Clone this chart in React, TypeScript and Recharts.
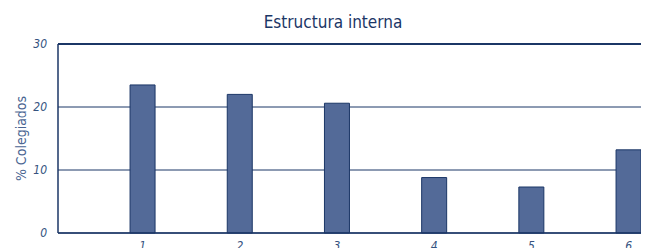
import { Bar, BarChart, CartesianGrid, ReferenceLine, XAxis, YAxis } from 'recharts';

const categories = [1, 2, 3, 4, 5, 6];
const colegiados = [23.5, 22.0, 20.6, 8.8, 7.3, 13.2];
const yTicks = [0, 10, 20, 30];

const data = categories.map((c, i) => ({ cat: c, value: colegiados[i] }));

const navy = '#1b3666';
const condensed = '"DejaVu Sans Condensed", "Liberation Sans", sans-serif';
const tickStyle = {
  fill: '#35537f',
  fontSize: 12,
  fontStyle: 'italic',
  fontFamily: condensed,
};

export default function App() {
  return (
    <div style={{ position: 'absolute', left: 0, top: 0, width: 650, height: 248, background: '#fff' }}>
      <BarChart
        width={650}
        height={248}
        data={data}
        margin={{ top: 44, right: 9, bottom: 0, left: 0 }}
      >
        <text
          x={333}
          y={28}
          textAnchor="middle"
          fill={navy}
          fontSize={17}
          fontFamily={condensed}
          style={{ fontStretch: 'condensed' }}
        >
          Estructura interna
        </text>
        <CartesianGrid vertical={false} stroke={navy} strokeWidth={1} />
        <XAxis
          dataKey="cat"
          type="number"
          domain={[0.129, 6.127]}
          ticks={categories}
          allowDataOverflow
          height={15}
          tickLine={false}
          axisLine={{ stroke: navy, strokeWidth: 1.5 }}
          tick={tickStyle}
          tickMargin={2}
        />
        <YAxis
          domain={[0, 30]}
          ticks={yTicks}
          width={58}
          tickLine={false}
          axisLine={{ stroke: navy, strokeWidth: 1.5 }}
          tick={tickStyle}
          tickMargin={5}
          label={{
            value: '% Colegiados',
            angle: -90,
            position: 'insideLeft',
            offset: 21,
            style: {
              textAnchor: 'middle',
              fill: '#4a6592',
              fontSize: 14,
              fontFamily: condensed,
            },
          }}
        />
        <ReferenceLine y={30} stroke={navy} strokeWidth={2} />
        <Bar
          dataKey="value"
          barSize={25}
          fill="#536a98"
          stroke={navy}
          strokeWidth={1}
          isAnimationActive={false}
        />
      </BarChart>
    </div>
  );
}
